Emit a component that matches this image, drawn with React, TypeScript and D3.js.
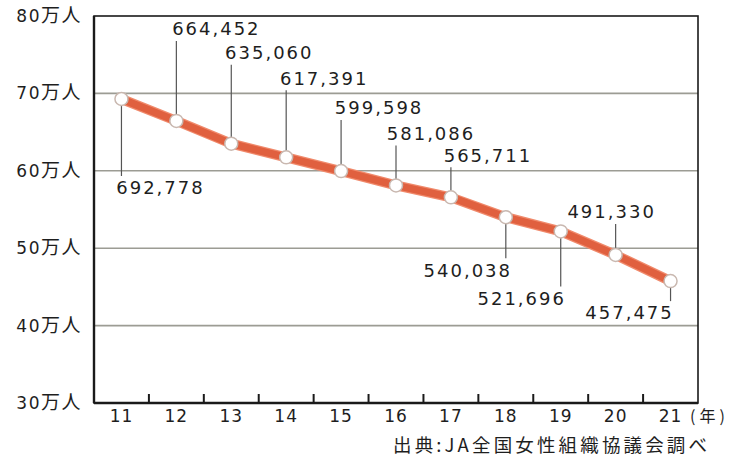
import React from "react";
import * as d3 from "d3";

// data
const years = ["11", "12", "13", "14", "15", "16", "17", "18", "19", "20", "21"];
const members = [692778, 664452, 635060, 617391, 599598, 581086, 565711, 540038, 521696, 491330, 457475];
const yTicks = [30, 40, 50, 60, 70, 80];

// label placement (px offsets from the point: label centre dx, dy)
const labelDx = [39, 40, 38, 38, 38, 35, 37, -38, -39, -4, -41];
const labelDy = [89, -92, -91, -79, -63, -52, -42, 53, 67, -43, 32];

const width = 731;
const height = 459;
const margin = { top: 16, right: 33, bottom: 56, left: 94 };

const fmt = d3.format(",");

export default function App() {
    const x = d3.scaleBand<string>()
        .domain(years)
        .range([margin.left, width - margin.right]);

    const y = d3.scaleLinear()
        .domain([300000, 800000])
        .range([height - margin.bottom, margin.top]);

    const cx = (d: string) => (x(d) as number) + x.bandwidth() / 2;

    const line = d3.line<number>()
        .x((d, i) => cx(years[i]))
        .y(d => y(d));

    const bottom = height - margin.bottom;
    const font = "'DejaVu Sans', 'Noto Sans CJK JP', sans-serif";
    const jp = "'Noto Sans CJK JP', sans-serif";

    return (
        <svg width={width} height={height} style={{ position: "absolute", left: 0, top: 0, background: "#fff" }}>
            {/* gridlines */}
            {yTicks.slice(1, -1).map(t => (
                <line key={t} x1={margin.left} x2={width - margin.right}
                    y1={y(t * 10000)} y2={y(t * 10000)}
                    stroke="#9c9c94" strokeWidth={1.6} />
            ))}

            {/* frame */}
            <rect x={margin.left} y={margin.top}
                width={width - margin.left - margin.right}
                height={height - margin.top - margin.bottom}
                fill="none" stroke="#1a1a1a" strokeWidth={1.6} />
            <line x1={margin.left} x2={margin.left} y1={margin.top} y2={bottom} stroke="#1a1a1a" strokeWidth={2.4} />
            <line x1={margin.left} x2={width - margin.right} y1={bottom} y2={bottom} stroke="#1a1a1a" strokeWidth={2.4} />

            {/* x ticks at band edges */}
            {years.slice(1).map(d => (
                <line key={d} x1={x(d)} x2={x(d)} y1={bottom} y2={bottom - 9}
                    stroke="#1a1a1a" strokeWidth={2} />
            ))}

            {/* y labels */}
            {yTicks.map(t => (
                <text key={t} x={margin.left - 12} y={y(t * 10000)} dy="0.35em"
                    textAnchor="end" fontSize={17} fill="#1e1e1e" fontFamily={font}
                    letterSpacing={1.5}>
                    {t}<tspan fontFamily={jp} fontSize={19}>万人</tspan>
                </text>
            ))}

            {/* x labels */}
            {years.map(d => (
                <text key={d} x={cx(d)} y={bottom + 13} dy="0.35em" textAnchor="middle"
                    fontSize={17} fill="#1e1e1e" fontFamily={font} letterSpacing={1}>
                    {d}
                </text>
            ))}
            <text x={690} y={bottom + 13} dy="0.35em" fontSize={16}
                fill="#1e1e1e" fontFamily={jp} textLength={35} lengthAdjust="spacing">(年)</text>

            {/* leader lines */}
            {members.map((v, i) => {
                const px = cx(years[i]);
                const py = y(v);
                const dy = labelDy[i];
                const end = dy > 0 ? py + dy - 12 : py + dy + 12;
                return (
                    <line key={i} x1={px} x2={px} y1={py} y2={end}
                        stroke="#555" strokeWidth={1.2} />
                );
            })}

            {/* series line */}
            <path d={line(members) as string} fill="none" stroke="#f08a6c" strokeWidth={10}
                strokeLinejoin="round" strokeLinecap="round" />
            <path d={line(members) as string} fill="none" stroke="#e0603f" strokeWidth={7.5}
                strokeLinejoin="round" strokeLinecap="round" />

            {/* markers */}
            {members.map((v, i) => (
                <circle key={i} cx={cx(years[i])} cy={y(v)} r={6.5}
                    fill="#fff" stroke="#c9b8b0" strokeWidth={1.5} />
            ))}

            {/* value labels */}
            {members.map((v, i) => (
                <text key={i} x={cx(years[i]) + labelDx[i]} y={y(v) + labelDy[i]} dy="0.35em"
                    textAnchor="middle" fontSize={18} fill="#1e1e1e" fontFamily={font}
                    letterSpacing={2}>
                    {fmt(v)}
                </text>
            ))}

            {/* source */}
            <text x={393} y={446} dy="0.35em" fontSize={18.5} fill="#1e1e1e" fontFamily={jp}
                textLength={314} lengthAdjust="spacing">
                出典:JA全国女性組織協議会調べ
            </text>
        </svg>
    );
}
